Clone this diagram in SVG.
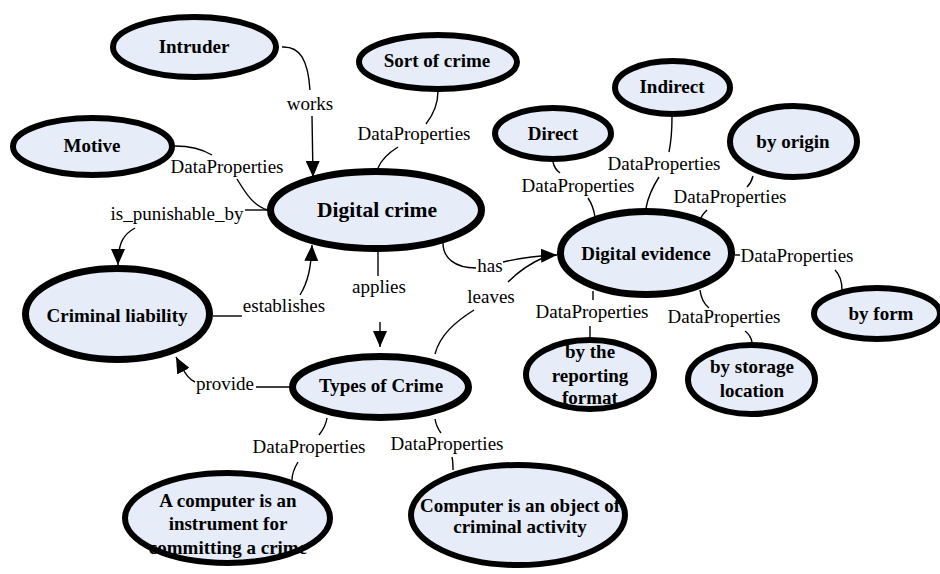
<svg xmlns="http://www.w3.org/2000/svg" width="940" height="574" viewBox="0 0 940 574">
<style>
.n{fill:#E6ECF8;stroke:#000;stroke-width:6}
.nb{fill:#E6ECF8;stroke:#000;stroke-width:7}
.t{font-family:"Liberation Serif","Times New Roman",serif;font-weight:bold;font-size:19px;text-anchor:middle;fill:#000}
.e{fill:none;stroke:#000;stroke-width:1.4}
.l{font-family:"Liberation Serif","Times New Roman",serif;font-size:19px;text-anchor:middle;fill:#000}
</style>
<defs>
<marker id="arr" viewBox="0 0 16 14" refX="16" refY="7" markerWidth="16" markerHeight="14" markerUnits="userSpaceOnUse" orient="auto">
<path d="M0,0 L16,7 L0,14 z" fill="#000"/>
</marker>
</defs>
<rect width="940" height="574" fill="#fff"/>
<g id="connectors">
<path class="e" d="M282,47 C300,46 308,60 310,90"/>
<path class="e" d="M312,116 L313,177" marker-end="url(#arr)"/>
<path class="e" d="M438,91 C438,105 433,115 426,124"/>
<path class="e" d="M398,147 C390,152 382,158 378,168"/>
<path class="e" d="M175,146 C190,146 202,149 212,155"/>
<path class="e" d="M237,179 C245,192 253,206 268,210"/>
<path class="e" d="M267,210 L245,210"/>
<path class="e" d="M135,228 C124,234 118,242 118,265" marker-end="url(#arr)"/>
<path class="e" d="M213,316 L242,316"/>
<path class="e" d="M300,295 C308,282 311,268 312,245" marker-end="url(#arr)"/>
<path class="e" d="M378,252 L378,276"/>
<path class="e" d="M380,322 L380,347" marker-end="url(#arr)"/>
<path class="e" d="M443,243 C443,258 455,268 476,268"/>
<path class="e" d="M503,262 C520,258 535,256 557,255" marker-end="url(#arr)"/>
<path class="e" d="M435,354 C440,335 455,322 474,310"/>
<path class="e" d="M508,282 C518,272 528,264 545,257"/>
<path class="e" d="M553,162 C554,167 556,170 560,173"/>
<path class="e" d="M588,198 C592,204 594,210 595,217"/>
<path class="e" d="M672,117 C672,130 671,142 669,152"/>
<path class="e" d="M659,177 C652,188 648,197 646,208"/>
<path class="e" d="M753,176 C752,180 750,184 747,187"/>
<path class="e" d="M707,210 C704,213 702,215 701,218"/>
<path class="e" d="M735,255 L740,255"/>
<path class="e" d="M835,270 C840,275 842,282 842,290"/>
<path class="e" d="M593,291 L593,300"/>
<path class="e" d="M590,326 L590,337"/>
<path class="e" d="M700,290 C701,298 704,304 709,308"/>
<path class="e" d="M745,331 C749,334 751,337 752,342"/>
<path class="e" d="M327,418 C326,425 323,430 319,435"/>
<path class="e" d="M298,462 C295,467 292,472 292,480"/>
<path class="e" d="M435,419 C436,425 438,429 441,433"/>
<path class="e" d="M452,457 C453,461 453,465 453,470"/>
<path class="e" d="M290,387 L256,387"/>
<path class="e" d="M195,382 C190,380 186,376 176,357" marker-end="url(#arr)"/>
</g>
<g id="intruder"><ellipse class="n" cx="194.5" cy="47" rx="81.5" ry="30"/><text class="t" x="194" y="53">Intruder</text></g>
<g id="sort-of-crime"><ellipse class="n" cx="438" cy="62" rx="79" ry="27"/><text class="t" x="437" y="67">Sort of crime</text></g>
<g id="motive"><ellipse class="n" cx="92.5" cy="146.5" rx="79.5" ry="28.5"/><text class="t" x="92" y="152">Motive</text></g>
<g id="digital-crime"><ellipse class="nb" cx="376" cy="210" rx="105.5" ry="38.5"/><text class="t" x="377" y="217" style="font-size:21.5px">Digital crime</text></g>
<g id="direct"><ellipse class="n" cx="553" cy="133.5" rx="58" ry="25.5"/><text class="t" x="553" y="140">Direct</text></g>
<g id="indirect"><ellipse class="n" cx="672.5" cy="87.5" rx="57.5" ry="26.5"/><text class="t" x="672" y="93">Indirect</text></g>
<g id="by-origin"><ellipse class="n" cx="793.5" cy="141.5" rx="63.5" ry="35.5"/><text class="t" x="793" y="148">by origin</text></g>
<g id="digital-evidence"><ellipse class="nb" cx="646" cy="253" rx="85.5" ry="41.5"/><text class="t" x="646" y="260">Digital evidence</text></g>
<g id="by-form"><ellipse class="n" cx="877" cy="313.5" rx="63" ry="25.5"/><text class="t" x="881" y="320">by form</text></g>
<g id="by-reporting-format"><ellipse class="n" cx="590" cy="374.5" rx="64" ry="34.5"/><text class="t" x="590" y="358">by the</text><text class="t" x="590" y="382">reporting</text><text class="t" x="590" y="404">format</text></g>
<g id="by-storage-location"><ellipse class="n" cx="751.5" cy="379.5" rx="63.5" ry="34.5"/><text class="t" x="752" y="373">by storage</text><text class="t" x="752" y="397">location</text></g>
<g id="criminal-liability"><ellipse class="nb" cx="117.5" cy="314" rx="92" ry="45.5"/><text class="t" x="117" y="322">Criminal liability</text></g>
<g id="types-of-crime"><ellipse class="nb" cx="380.5" cy="387" rx="88" ry="30.5"/><text class="t" x="381" y="392">Types of Crime</text></g>
<g id="computer-instrument"><ellipse class="n" cx="227.5" cy="518" rx="102.5" ry="45"/><text class="t" x="228" y="507">A computer is an</text><text class="t" x="228" y="530">instrument for</text><text class="t" x="228" y="554">committing a crime</text></g>
<g id="computer-object"><ellipse class="n" cx="518" cy="515" rx="107" ry="50"/><text class="t" x="520" y="512">Computer is an object of</text><text class="t" x="520" y="533">criminal activity</text></g>
<g id="labels">
<text class="l" x="310" y="110">works</text>
<text class="l" x="414" y="140">DataProperties</text>
<text class="l" x="227" y="173">DataProperties</text>
<text class="l" x="177" y="220">is_punishable_by</text>
<text class="l" x="284" y="312">establishes</text>
<text class="l" x="379" y="293">applies</text>
<text class="l" x="490" y="272">has</text>
<text class="l" x="491" y="303">leaves</text>
<text class="l" x="225" y="390">provide</text>
<text class="l" x="578" y="192">DataProperties</text>
<text class="l" x="664" y="170">DataProperties</text>
<text class="l" x="730" y="203">DataProperties</text>
<text class="l" x="797" y="262">DataProperties</text>
<text class="l" x="592" y="318">DataProperties</text>
<text class="l" x="724" y="323">DataProperties</text>
<text class="l" x="309" y="453">DataProperties</text>
<text class="l" x="447" y="450">DataProperties</text>
</g>
</svg>
